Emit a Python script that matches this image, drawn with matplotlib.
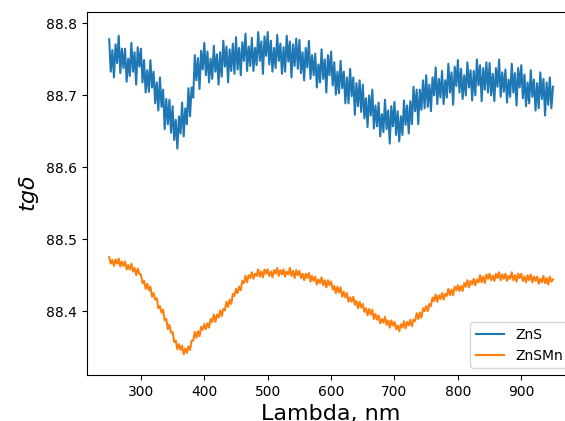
import numpy as np
import matplotlib
matplotlib.use("Agg")
import matplotlib.pyplot as plt

# wavelength grid, nm (2.5 nm step)
wl = np.linspace(250, 950, 281)

zns = [88.778, 88.733, 88.763, 88.725, 88.771, 88.745, 88.783, 88.731, 88.765, 88.738,
       88.765, 88.719, 88.751, 88.727, 88.773, 88.733, 88.760, 88.715, 88.767, 88.740,
       88.765, 88.718, 88.749, 88.704, 88.735, 88.705, 88.749, 88.711, 88.733, 88.689,
       88.718, 88.679, 88.725, 88.684, 88.708, 88.653, 88.695, 88.660, 88.694, 88.648,
       88.685, 88.638, 88.666, 88.626, 88.671, 88.647, 88.690, 88.643, 88.682, 88.660,
       88.710, 88.671, 88.711, 88.697, 88.756, 88.721, 88.752, 88.709, 88.762, 88.736,
       88.773, 88.728, 88.761, 88.718, 88.751, 88.723, 88.769, 88.733, 88.757, 88.715,
       88.760, 88.726, 88.776, 88.740, 88.768, 88.718, 88.764, 88.734, 88.772, 88.730,
       88.781, 88.736, 88.766, 88.728, 88.774, 88.748, 88.786, 88.734, 88.768, 88.741,
       88.780, 88.734, 88.766, 88.742, 88.788, 88.748, 88.775, 88.730, 88.782, 88.755,
       88.788, 88.743, 88.776, 88.733, 88.766, 88.738, 88.784, 88.748, 88.772, 88.730,
       88.767, 88.733, 88.783, 88.747, 88.775, 88.725, 88.771, 88.741, 88.779, 88.737,
       88.777, 88.731, 88.760, 88.721, 88.766, 88.739, 88.776, 88.723, 88.756, 88.728,
       88.758, 88.711, 88.743, 88.718, 88.764, 88.723, 88.750, 88.704, 88.756, 88.728,
       88.761, 88.714, 88.746, 88.701, 88.733, 88.703, 88.748, 88.710, 88.733, 88.689,
       88.725, 88.689, 88.737, 88.699, 88.725, 88.673, 88.717, 88.685, 88.721, 88.677,
       88.715, 88.668, 88.696, 88.656, 88.700, 88.672, 88.708, 88.654, 88.686, 88.657,
       88.690, 88.643, 88.674, 88.649, 88.694, 88.653, 88.679, 88.633, 88.685, 88.657,
       88.691, 88.645, 88.678, 88.636, 88.671, 88.645, 88.693, 88.659, 88.686, 88.647,
       88.692, 88.660, 88.712, 88.678, 88.708, 88.660, 88.708, 88.680, 88.721, 88.682,
       88.728, 88.684, 88.715, 88.678, 88.725, 88.700, 88.739, 88.688, 88.723, 88.697,
       88.734, 88.688, 88.721, 88.697, 88.744, 88.704, 88.732, 88.687, 88.740, 88.713,
       88.749, 88.704, 88.737, 88.695, 88.728, 88.700, 88.746, 88.711, 88.735, 88.693,
       88.734, 88.700, 88.750, 88.714, 88.742, 88.692, 88.738, 88.708, 88.746, 88.704,
       88.745, 88.700, 88.730, 88.692, 88.738, 88.712, 88.750, 88.698, 88.732, 88.705,
       88.736, 88.690, 88.722, 88.698, 88.744, 88.704, 88.731, 88.686, 88.738, 88.711,
       88.742, 88.696, 88.729, 88.685, 88.718, 88.689, 88.735, 88.698, 88.722, 88.679,
       88.717, 88.682, 88.732, 88.695, 88.723, 88.672, 88.718, 88.687, 88.725, 88.682,
       88.712]

znsmn = [88.475, 88.466, 88.471, 88.463, 88.472, 88.466, 88.473, 88.462, 88.469, 88.463,
         88.469, 88.458, 88.464, 88.458, 88.466, 88.455, 88.460, 88.450, 88.459, 88.452,
         88.451, 88.439, 88.442, 88.431, 88.438, 88.429, 88.434, 88.420, 88.425, 88.416,
         88.418, 88.404, 88.407, 88.398, 88.402, 88.387, 88.389, 88.375, 88.381, 88.370,
         88.371, 88.357, 88.359, 88.347, 88.354, 88.346, 88.352, 88.340, 88.348, 88.342,
         88.351, 88.346, 88.359, 88.359, 88.371, 88.363, 88.372, 88.365, 88.378, 88.374,
         88.382, 88.375, 88.383, 88.377, 88.389, 88.385, 88.395, 88.385, 88.395, 88.391,
         88.401, 88.393, 88.403, 88.401, 88.413, 88.406, 88.416, 88.410, 88.424, 88.421,
         88.431, 88.425, 88.434, 88.429, 88.442, 88.439, 88.449, 88.440, 88.450, 88.446,
         88.454, 88.445, 88.452, 88.449, 88.458, 88.448, 88.455, 88.447, 88.458, 88.452,
         88.458, 88.449, 88.455, 88.447, 88.457, 88.452, 88.460, 88.449, 88.457, 88.451,
         88.458, 88.448, 88.455, 88.451, 88.460, 88.449, 88.456, 88.446, 88.457, 88.450,
         88.456, 88.446, 88.452, 88.443, 88.452, 88.446, 88.453, 88.441, 88.449, 88.442,
         88.448, 88.437, 88.444, 88.439, 88.447, 88.436, 88.443, 88.433, 88.443, 88.436,
         88.441, 88.430, 88.435, 88.425, 88.434, 88.426, 88.433, 88.420, 88.427, 88.419,
         88.425, 88.413, 88.419, 88.413, 88.420, 88.409, 88.414, 88.404, 88.413, 88.405,
         88.410, 88.399, 88.404, 88.394, 88.403, 88.395, 88.402, 88.389, 88.396, 88.388,
         88.394, 88.383, 88.389, 88.384, 88.392, 88.381, 88.387, 88.377, 88.387, 88.380,
         88.385, 88.375, 88.380, 88.372, 88.382, 88.377, 88.386, 88.376, 88.385, 88.380,
         88.388, 88.379, 88.388, 88.386, 88.397, 88.389, 88.398, 88.391, 88.404, 88.400,
         88.407, 88.400, 88.410, 88.407, 88.419, 88.414, 88.423, 88.413, 88.422, 88.417,
         88.425, 88.416, 88.424, 88.421, 88.431, 88.422, 88.430, 88.422, 88.434, 88.429,
         88.436, 88.428, 88.435, 88.428, 88.439, 88.434, 88.443, 88.433, 88.442, 88.437,
         88.445, 88.436, 88.444, 88.440, 88.450, 88.440, 88.448, 88.439, 88.451, 88.445,
         88.452, 88.443, 88.449, 88.442, 88.452, 88.446, 88.454, 88.443, 88.451, 88.445,
         88.452, 88.442, 88.449, 88.445, 88.454, 88.443, 88.450, 88.441, 88.452, 88.446,
         88.452, 88.442, 88.448, 88.440, 88.450, 88.443, 88.451, 88.440, 88.448, 88.442,
         88.448, 88.438, 88.445, 88.440, 88.449, 88.439, 88.446, 88.437, 88.448, 88.441,
         88.444]

fig = plt.figure(figsize=(5.65, 4.21), dpi=100)
ax = fig.add_axes([0.154, 0.109, 0.864, 0.862])
ax.plot(wl, zns, label="ZnS")
ax.plot(wl, znsmn, label="ZnSMn")
ax.set_xlim(215, 985)
ax.set_ylim(88.311, 88.8157)
ax.set_xticks([300, 400, 500, 600, 700, 800, 900])
ax.set_yticks([88.4, 88.5, 88.6, 88.7, 88.8])
ax.set_xlabel("Lambda, nm", fontsize=16)
ax.set_ylabel(r"$tg\delta$", fontsize=16)
ax.legend(loc="lower right")
fig.savefig("out.png", dpi=100)
